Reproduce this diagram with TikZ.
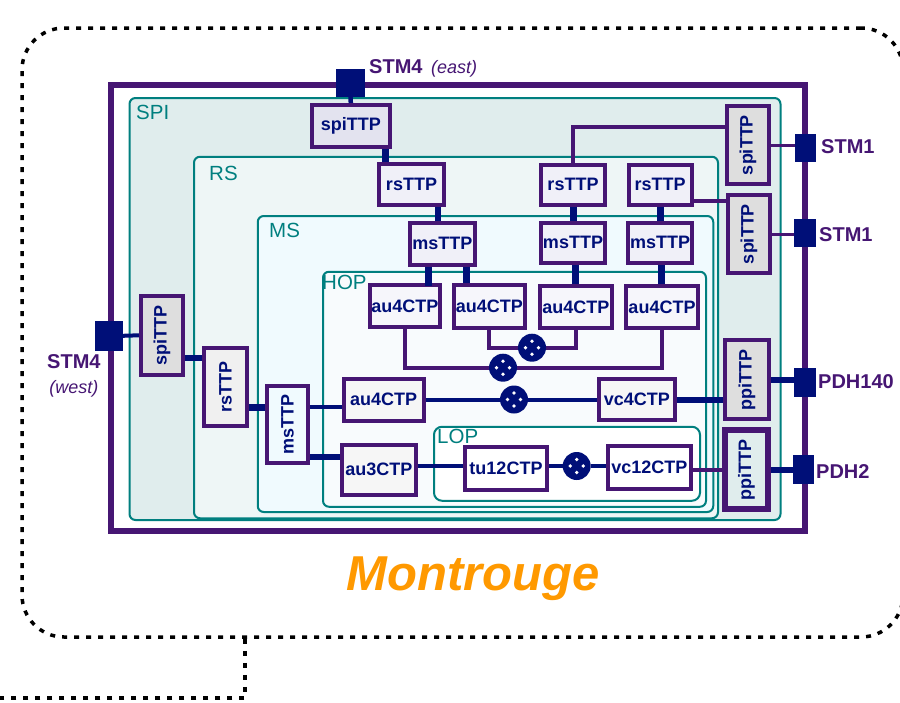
\documentclass[tikz,border=0pt]{standalone}
\usepackage{fontspec}
\setmainfont{Liberation Sans}
\definecolor{netnavy}{HTML}{000F78}
\definecolor{netpurple}{HTML}{461673}
\definecolor{netteal}{HTML}{007F7F}
\definecolor{netorange}{HTML}{FF9900}
\definecolor{fillspi}{HTML}{E0EDED}
\definecolor{fillrs}{HTML}{EEF6F6}
\definecolor{fillms}{HTML}{F0FAFE}
\definecolor{fillhop}{HTML}{F8FBFD}
\definecolor{filltop}{HTML}{E3E3EF}
\definecolor{filltrail}{HTML}{F0F0F8}
\definecolor{fillau}{HTML}{F6F6FB}
\definecolor{fillgrey}{HTML}{DEDEDE}
\definecolor{filllight}{HTML}{F0F0F0}
\definecolor{fillpale}{HTML}{F6F6F6}
\begin{document}
\begin{tikzpicture}[x=1pt, y=-1pt,
    sz/.style 2 args={minimum width=#1, minimum height=#2},
    site/.style={draw=black, line width=3.5pt, dash pattern=on 5pt off 7pt},
    panel/.style={draw=netteal, line width=2pt, rounded corners=6pt, inner sep=0pt},
    panlab/.style={font=\fontsize{20.5}{22}\selectfont, text=netteal, anchor=west, inner sep=0pt},
    ttp/.style={draw=netpurple, line width=4pt, inner sep=0pt, text=netnavy, font=\fontsize{18}{20}\selectfont\bfseries},
    port/.style={fill=netnavy, inner sep=0pt, outer sep=0pt},
    portlab/.style={font=\fontsize{20}{25}\selectfont\bfseries, text=netpurple, anchor=west, inner sep=0pt},
    xc/.style={circle, fill=netnavy, minimum size=28pt, inner sep=0pt,
        path picture={\foreach \ang in {0,90,180,270} \fill[white] (path picture bounding box.center) ++(\ang:6.5pt) circle (1.9pt);}},
    wire/.style={draw=netnavy, line width=#1},
    pwire/.style={draw=netpurple, line width=#1}]
    \useasboundingbox (0,0) rectangle (900,702);
    % site outline
    \coordinate (tailEnd) at (0,698);
    \node[site, rounded corners=42pt, sz={881}{609}, inner sep=0pt] (siteBox) at (462.5,332.5) {};
    \draw[site] (siteBox.south -| 245,0) |- (tailEnd);
    \node[font=\fontsize{49}{52}\selectfont\bfseries\itshape, text=netorange, inner sep=0pt] (siteName) at (473,579) {Montrouge};
    % equipment frame and layers
    \node[draw=netpurple, line width=6pt, fill=white, sz={694.5}{446}, inner sep=0pt] (frame) at (457.75,308) {};
    \node[panel, fill=fillspi, sz={651}{422}] (spi) at (455,309) {};
    \node[panel, fill=fillrs, sz={524}{361.5}] (rs) at (456,337.5) {};
    \node[panel, fill=fillms, sz={455.5}{296}] (ms) at (485.5,364) {};
    \node[panel, fill=fillhop, sz={383}{235}] (hop) at (514.5,389.25) {};
    \node[panel, fill=white, rounded corners=8pt, sz={266}{74}] (lop) at (567,463.75) {};
    \node[panlab] (spiLab) at (136,112) {SPI};
    \node[panlab] (rsLab) at (209,173) {RS};
    \node[panlab] (msLab) at (269,230) {MS};
    \node[panlab] (hopLab) at (322,282) {HOP};
    \node[panlab] (lopLab) at (437,436) {LOP};
    % ports
    \node[port, sz={29}{28}] (stmA) at (350.5,83) {};
    \node[port, sz={20.7}{28}] (stmB) at (805.3,148) {};
    \node[port, sz={21.7}{28}] (stmC) at (804.8,233) {};
    \node[port, sz={27.7}{29.7}] (stmW) at (108.8,335.8) {};
    \node[port, sz={21.7}{29.3}] (pdhA) at (804.8,382.3) {};
    \node[port, sz={21.3}{29}] (pdhB) at (803.3,469.5) {};
    \node[portlab] (stmALab) at (369,68) {STM4\hspace{3pt} {\normalfont\itshape\fontsize{18}{20}\selectfont (east)}};
    \node[portlab] (stmBLab) at (821,147) {STM1};
    \node[portlab] (stmCLab) at (819,235) {STM1};
    \node[portlab, align=center] (stmWLab) at (47,375.5) {STM4\\{\normalfont\itshape\fontsize{18}{20}\selectfont (west)}};
    \node[portlab] (pdhALab) at (818,382) {PDH140};
    \node[portlab] (pdhBLab) at (816,472) {PDH2};
    % trail termination points, top row
    \node[ttp, fill=filltop, sz={77.7}{41.7}] (spiA) at (350.8,125.8) {spiTTP};
    \node[ttp, fill=filltrail, sz={65}{40.7}] (rsA) at (411.5,184.3) {rsTTP};
    \node[ttp, fill=filltrail, sz={64}{39.7}] (rsB) at (573,184.8) {rsTTP};
    \node[ttp, fill=filltrail, sz={63}{39.7}] (rsC) at (660,184.8) {rsTTP};
    \node[ttp, fill=filltrail, sz={64.7}{41.7}] (msA) at (442.3,243.8) {msTTP};
    \node[ttp, fill=filltrail, sz={64}{40.3}] (msB) at (573,242.8) {msTTP};
    \node[ttp, fill=filltrail, sz={64.3}{40.3}] (msC) at (660,242.8) {msTTP};
    % connection points
    \node[ttp, fill=fillau, sz={70.3}{42}] (auA) at (404.8,306) {au4CTP};
    \node[ttp, fill=fillau, sz={71.3}{42.7}] (auB) at (489.3,306.3) {au4CTP};
    \node[ttp, fill=fillau, sz={71.7}{42}] (auC) at (575.8,307) {au4CTP};
    \node[ttp, fill=fillau, sz={72}{42}] (auD) at (662,307) {au4CTP};
    \node[ttp, fill=fillpale, sz={80}{42}] (auE) at (383.7,399.5) {au4CTP};
    \node[ttp, fill=fillpale, sz={76.3}{40.3}] (vcD) at (636.8,399.5) {vc4CTP};
    \node[ttp, fill=fillpale, sz={73.7}{50}] (auT) at (378.8,469.7) {au3CTP};
    \node[ttp, fill=white, sz={82}{43}] (tuL) at (506,468.5) {tu12CTP};
    \node[ttp, fill=white, sz={83.3}{43}] (vcL) at (649.3,467.5) {vc12CTP};
    % upright boxes
    \node[ttp, fill=fillgrey, sz={42}{78}] (spiB) at (748,145) {\rotatebox{90}{spiTTP}};
    \node[ttp, fill=fillgrey, sz={42}{78}] (spiC) at (749,234) {\rotatebox{90}{spiTTP}};
    \node[ttp, fill=fillgrey, sz={44}{79}] (ppiA) at (747,379.5) {\rotatebox{90}{ppiTTP}};
    \node[ttp, fill=fillspi, line width=6pt, sz={43}{79}] (ppiB) at (746.5,469.5) {\rotatebox{90}{ppiTTP}};
    \node[ttp, fill=fillgrey, sz={42}{78.7}] (spiL) at (162,335.3) {\rotatebox{90}{spiTTP}};
    \node[ttp, fill=filllight, sz={43}{78}] (rsL) at (225.5,387) {\rotatebox{90}{rsTTP}};
    \node[ttp, fill=fillms, sz={41}{77}] (msL) at (287.5,424.5) {\rotatebox{90}{msTTP}};
    % matrix connections
    \node[xc] (xcA) at (532,347.7) {};
    \node[xc] (xcB) at (503,367.7) {};
    \node[xc] (xcC) at (514,399.5) {};
    \node[xc] (xcD) at (576.7,466) {};
    % vertical links
    \draw[wire=4.5pt] (stmA.south) -- (spiA.north);
    \draw[wire=7pt] ([xshift=-26.5pt]rsA.north) -- ([xshift=-26.5pt]rsA.north |- spiA.south);
    \draw[wire=6pt] ([xshift=-4.5pt]msA.north) -- ([xshift=-4.5pt]msA.north |- rsA.south);
    \foreach \a/\b in {msB/rsB, msC/rsC} \draw[wire=7pt] (\a.north) -- (\b.south);
    \draw[wire=7pt] ([xshift=-14pt]msA.south) -- ([xshift=-14pt, yshift=-3pt]msA.south |- auA.north);
    \draw[wire=7pt] ([xshift=24.5pt]msA.south) -- ([xshift=24.5pt]msA.south |- auB.north);
    \draw[wire=7pt] (auC.north) -- (auC.north |- msB.south);
    \draw[wire=7pt] ([xshift=-1pt]auD.north) -- ([xshift=-1pt]auD.north |- msC.south);
    % horizontal links
    \draw[wire=4pt] (stmW.east) -- (spiL.west);
    \draw[wire=6pt] ([yshift=29pt]rsL.west) -- ([yshift=29pt]rsL.west -| spiL.east);
    \draw[wire=7pt] ([yshift=-20pt]rsL.east) -- ([yshift=-20pt]rsL.east -| msL.west);
    \draw[wire=4pt] ([yshift=-7pt]auE.west) -- ([yshift=-7pt]auE.west -| msL.east);
    \draw[wire=6pt] ([yshift=13pt]auT.west) -- ([yshift=13pt]auT.west -| msL.east);
    \draw[wire=4pt] (xcD.west -| auT.east) -- (xcD.west -| tuL.west);
    \foreach \a/\b in {auE/xcC, xcC/vcD} \draw[wire=4pt] (\a) -- (\b);
    \draw[wire=4pt] (xcD.west -| tuL.east) -- (xcD.west);
    \draw[wire=4pt] (xcD.east) -- (xcD.east -| vcL.west);
    \draw[wire=6pt] (vcD.east) -- (vcD.east -| ppiA.west);
    \draw[wire=6pt] (ppiA.east) -- (ppiA.east -| pdhA.west);
    \draw[wire=6pt] (ppiB.east) -- (ppiB.east -| pdhB.west);
    % purple links
    \draw[pwire=4pt] ([yshift=18pt]spiB.west) -| (rsB.north);
    \draw[pwire=4pt] ([yshift=-16pt]rsC.east) -- ([yshift=-16pt]rsC.east -| spiC.west);
    \draw[pwire=3pt] (spiB.east) -- (spiB.east -| stmB.west);
    \draw[pwire=3pt] (spiC.east) -- (spiC.east -| stmC.west);
    \draw[pwire=4pt] (ppiB.west) -- (ppiB.west -| vcL.east);
    \draw[pwire=4pt] (auA.south) |- (xcB.west);
    \draw[pwire=4pt] (auD.south) |- (xcB.east);
    \draw[pwire=4pt] (auB.south) |- (xcA.west);
    \draw[pwire=4pt] (auC.south) |- (xcA.east);
\end{tikzpicture}
\end{document}
